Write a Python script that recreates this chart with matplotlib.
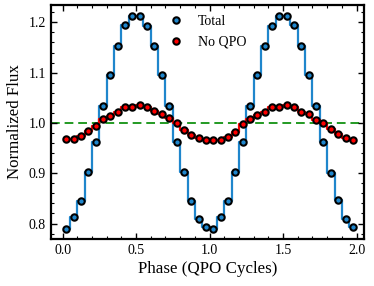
import numpy as np
import matplotlib
matplotlib.use("Agg")
import matplotlib.pyplot as plt
from matplotlib.ticker import MultipleLocator

# === Data ===
phase = np.arange(0.025, 2.0, 0.05)

total_flux = [
    0.790, 0.812, 0.845, 0.902, 0.963, 1.034, 1.095, 1.152, 1.195, 1.213,
    1.213, 1.193, 1.152, 1.095, 1.034, 0.963, 0.902, 0.845, 0.809, 0.794,
    0.790, 0.812, 0.845, 0.902, 0.963, 1.034, 1.095, 1.152, 1.193, 1.213,
    1.213, 1.195, 1.152, 1.095, 1.034, 0.963, 0.900, 0.847, 0.809, 0.794,
]

no_qpo_flux = [
    0.968, 0.968, 0.975, 0.983, 0.993, 1.007, 1.014, 1.022, 1.032, 1.031,
    1.036, 1.031, 1.024, 1.018, 1.009, 1.000, 0.986, 0.976, 0.970, 0.967,
    0.967, 0.967, 0.972, 0.982, 0.997, 1.007, 1.015, 1.022, 1.032, 1.032,
    1.036, 1.031, 1.022, 1.018, 1.005, 1.000, 0.987, 0.977, 0.970, 0.967,
]

BLUE = "#1f86cc"
RED = "#ff0000"
GREEN = "#229a22"

plt.rcParams["font.family"] = ["Liberation Serif", "DejaVu Serif"]
plt.rcParams["mathtext.fontset"] = "stix"

fig = plt.figure(figsize=(3.74, 2.86), dpi=100)
ax = fig.add_axes([0.136, 0.164, 0.837, 0.8185])

# === Lines ===
ax.axhline(1.0, color=GREEN, ls=(0, (4.5, 2.5)), lw=1.4, zorder=1)
ax.step(phase, total_flux, where="mid", color=BLUE, lw=1.6, zorder=2)
ax.step(phase, no_qpo_flux, where="mid", color=RED, lw=1.6, zorder=4)

# === Points ===
ax.plot(phase, total_flux, "o", ms=4.6, mfc=BLUE, mec="black", mew=1.5,
        ls="none", label="Total", zorder=3)
ax.plot(phase, no_qpo_flux, "o", ms=4.6, mfc=RED, mec="black", mew=1.5,
        ls="none", label="No QPO", zorder=5)

# === Axes styling ===
ax.set_xlim(-0.08, 2.05)
ax.set_ylim(0.769, 1.2345)
ax.xaxis.set_major_locator(MultipleLocator(0.5))
ax.xaxis.set_minor_locator(MultipleLocator(0.1))
ax.yaxis.set_major_locator(MultipleLocator(0.1))
ax.yaxis.set_minor_locator(MultipleLocator(0.02))
ax.tick_params(which="both", direction="in", top=True, right=True, labelsize=10)
ax.tick_params(which="major", length=4, width=1.0)
ax.tick_params(which="minor", length=2, width=0.8)
for sp in ax.spines.values():
    sp.set_linewidth(1.6)

ax.set_xlabel("Phase (QPO Cycles)", fontsize=12.2, labelpad=3)
ax.set_ylabel("Normalized Flux", fontsize=12.2, labelpad=4)

ax.legend(loc="upper center", bbox_to_anchor=(0.49, 1.0), frameon=False,
          fontsize=10, handletextpad=0.6, borderaxespad=0.3,
          labelspacing=0.55, markerscale=1.0)

fig.savefig("out.png", dpi=100)
